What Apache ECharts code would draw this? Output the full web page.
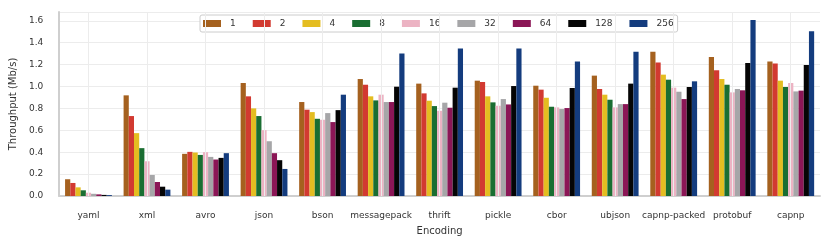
<!DOCTYPE html>
<html>
<head>
<meta charset="utf-8">
<script src="https://cdn.jsdelivr.net/npm/echarts@6/dist/echarts.min.js"></script>
<style>html,body{margin:0;padding:0;background:#fff;}#c{width:831px;height:249px;}</style>
</head>
<body>
<div id="c"></div>
<script>
const categories = ['yaml','xml','avro','json','bson','messagepack','thrift','pickle','cbor','ubjson','capnp-packed','protobuf','capnp'];
const seriesNames = ['1','2','4','8','16','32','64','128','256'];
const s1   = [0.153,0.919,0.385,1.032,0.858,1.068,1.026,1.053,1.007,1.099,1.316,1.270,1.227];
const s2   = [0.119,0.730,0.403,0.910,0.788,1.016,0.937,1.041,0.971,0.977,1.218,1.148,1.209];
const s4   = [0.079,0.574,0.397,0.800,0.766,0.910,0.870,0.910,0.897,0.925,1.108,1.068,1.053];
const s8   = [0.052,0.437,0.375,0.730,0.705,0.873,0.821,0.855,0.815,0.879,1.062,1.016,0.995];
const s16  = [0.030,0.317,0.400,0.601,0.696,0.925,0.778,0.824,0.809,0.809,0.989,0.946,1.032];
const s32  = [0.020,0.192,0.357,0.500,0.757,0.858,0.852,0.885,0.794,0.839,0.952,0.977,0.955];
const s64  = [0.015,0.128,0.333,0.391,0.675,0.858,0.806,0.836,0.803,0.839,0.885,0.965,0.962];
const s128 = [0.010,0.085,0.348,0.327,0.784,0.998,0.989,1.004,0.986,1.026,0.995,1.215,1.197];
const s256 = [0.008,0.058,0.391,0.247,0.925,1.300,1.346,1.346,1.227,1.316,1.047,1.606,1.505];
const seriesValues = [s1,s2,s4,s8,s16,s32,s64,s128,s256];
const colors = ['#a5611f','#d23a31','#e4bd21','#1a6e32','#ecb3c3','#a6a6a8','#8b1656','#050505','#143c7e'];
const yTicks = [0,0.2,0.4,0.6,0.8,1.0,1.2,1.4,1.6];

const font = 'DejaVu Sans';
const series = seriesValues.map((vals, i) => ({
  name: seriesNames[i],
  type: 'bar',
  data: vals,
  barGap: '0%',
  barCategoryGap: '20%',
  itemStyle: { color: colors[i] },
  z: 3,
  silent: true
}));
series.push({
  name: '_grid',
  type: 'line',
  data: [],
  z: 1,
  silent: true,
  markLine: {
    silent: true,
    symbol: ['none','none'],
    label: { show: false },
    lineStyle: { color: '#ececec', type: 'solid', width: 1 },
    data: categories.map(c => ({ xAxis: c }))
  }
});

const chart = echarts.init(document.getElementById('c'), null, { renderer: 'canvas' });
chart.setOption({
  animation: false,
  color: colors,
  grid: { left: 58, right: 11, top: 12, bottom: 53, containLabel: false },
  legend: {
    data: seriesNames,
    left: 200, top: 15,
    padding: [4, 4, 4, 3],
    itemWidth: 18, itemHeight: 7,
    itemGap: 17,
    icon: 'rect',
    backgroundColor: '#fff',
    borderColor: '#cccccc', borderWidth: 1, borderRadius: 2,
    formatter: n => '{p| }{t|' + n + '}',
    textStyle: {
      fontFamily: font, fontSize: 9, color: '#333',
      rich: {
        p: { width: 4, fontSize: 9 },
        t: { fontFamily: font, fontSize: 9, color: '#333' }
      }
    }
  },
  xAxis: {
    type: 'category',
    data: categories,
    name: 'Encoding',
    nameLocation: 'middle',
    nameGap: 30,
    nameTextStyle: { fontFamily: font, fontSize: 10, color: '#333' },
    axisLine: { show: true, lineStyle: { color: '#cfcfcf', width: 2 } },
    axisTick: { show: false },
    axisLabel: { fontFamily: font, fontSize: 9, color: '#333', margin: 15, interval: 0 },
    splitLine: { show: false }
  },
  yAxis: {
    type: 'value',
    min: 0, max: 1.68, interval: 0.2,
    name: 'Throughput (Mb/s)',
    nameLocation: 'middle',
    nameGap: 34,
    nameTextStyle: { fontFamily: font, fontSize: 10, color: '#333' },
    axisLine: { show: true, lineStyle: { color: '#cfcfcf', width: 2 } },
    axisTick: { show: false },
    axisLabel: {
      fontFamily: font, fontSize: 9, color: '#333', margin: 16,
      showMaxLabel: false,
      formatter: v => yTicks.some(t => Math.abs(t - v) < 1e-6) ? v.toFixed(1) : ''
    },
    splitLine: { show: true, lineStyle: { color: '#ececec', width: 1 } }
  },
  series: series
});
</script>
</body>
</html>
